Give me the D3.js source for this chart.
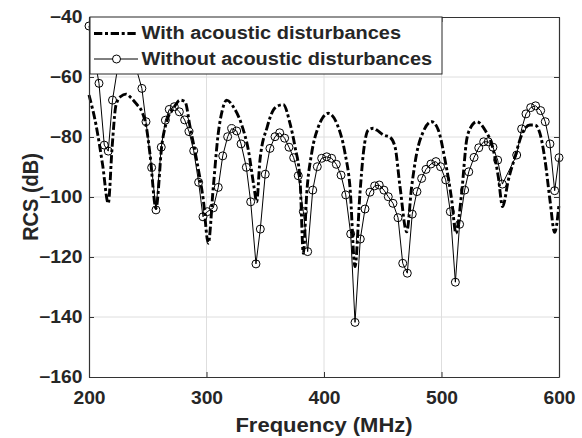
<!DOCTYPE html>
<html>
<head>
<meta charset="utf-8">
<script src="https://cdn.jsdelivr.net/npm/d3@7"></script>
<style>
  body { margin: 0; background: #fff; }
  svg text { font-family: "Liberation Sans", Arial, sans-serif; font-weight: bold; fill: #262626; }
</style>
</head>
<body>
<div id="chart"></div>
<script>
// Series
const seriesNames = ["With acoustic disturbances", "Without acoustic disturbances"];

const freqWith = [200, 206, 211.6, 216.4, 219.6, 223, 227, 231.5, 236, 240, 245.6, 248.5, 252, 257, 262, 267,
  272.6, 277.4, 281.7, 286, 291.6, 297.3, 301.5, 305.8, 310, 313.5, 317.2, 322.8, 330, 335.6, 340.4, 342.7,
  345.5, 351.7, 356.9, 361, 365.4, 371, 375.3, 379.6, 382.4, 385.3, 389.5, 395.2, 399, 403.7, 410.8, 417.9,
  422.1, 426.4, 430.6, 433.5, 437.7, 442, 444.9, 450.5, 456.2, 460.4, 464.7, 470.4, 474.6, 478.9, 484.5,
  491.7, 497.3, 503, 508.7, 512.3, 517.1, 521.4, 524, 530, 537, 544.1, 548.3, 552, 556.9, 562.6, 568.2,
  575.3, 579.6, 583.8, 588.1, 592.3, 596.3, 600];
const rcsWith = [-66, -76, -89.3, -102.1, -83.8, -69.3, -66.5, -65.7, -67, -68.8, -72.1, -76, -86, -103.8, -82.7, -73.8,
  -69.9, -67.7, -68.2, -76.6, -87.7, -101, -115.4, -96.6, -78.8, -71, -67.7, -69.9, -76, -84.3, -96.6, -101.6,
  -87.7, -76.6, -71, -69.6, -69.2, -75.4, -83.2, -94.3, -118.8, -98.8, -85.4, -76.6, -73.5, -72.1, -75.4, -85.4,
  -96.6, -123.2, -98.8, -85.4, -77.7, -77.1, -77.7, -79.3, -80.1, -83.2, -96.6, -111.6, -96.6, -85.4, -78.2,
  -74.9, -77.7, -87.7, -101, -112.1, -98.8, -81, -77.5, -74.9, -77.7, -84.3, -93.2, -103.2, -94.3, -86.6, -79.3,
  -76, -76, -78.8, -87.7, -101, -111.8, -102.5];

const freqWithout = [200, 208.5, 213, 216.4, 220, 230, 245, 248.5, 253.3, 257, 261.5, 265, 268.3, 272.6, 276.9,
  281.4, 285.1, 289.1, 293.3, 297, 300.7, 305.8, 310, 313.8, 318, 321.4, 325.7, 329.4, 333.9, 337.6, 342.1,
  345.8, 350, 354, 358.3, 362.3, 366.5, 370.2, 374.2, 378.1, 382.4, 386.1, 390.4, 394.3, 398, 402.3, 406.5,
  410.5, 414.5, 418.5, 422.7, 426.4, 430.9, 434.9, 439.1, 443.1, 447, 451, 454.7, 458.7, 463, 467, 470.9,
  475.1, 479.1, 483.1, 486.8, 491, 495.3, 499.2, 503.6, 507.5, 511.8, 515.4, 519.7, 523.2, 527.7, 531.7,
  535.9, 539.8, 543.8, 547.8, 551.8, 564, 568.2, 571.9, 575.9, 580.1, 584.4, 588.3, 592.3, 596.3, 600];
const rcsWithout = [-43, -62.1, -82.7, -84.7, -67.7, -43, -63.8, -74.9, -90.2, -104.3, -83.4, -74.4, -70.8, -69.9, -71.6,
  -74.3, -78.2, -84.6, -95.1, -106.6, -104.9, -103.6, -96.8, -86.3, -79.9, -77.2, -78, -82.3, -90.1, -101.6, -122.3,
  -110.7, -92.4, -83.8, -79.9, -78.6, -80.4, -83.4, -86.9, -92.9, -104.9, -118.2, -97.7, -89.9, -87.1, -86.6, -87.1,
  -89.1, -92.7, -99.3, -112.3, -141.8, -114, -104, -98.4, -96.3, -96, -97.7, -99.9, -102.1, -106.9, -122.1, -125.4,
  -105.7, -98.2, -93.8, -90.8, -89, -88.2, -89.9, -94.3, -104.9, -128.4, -109.1, -97.7, -91.6, -86.8, -83.6,
  -81.6, -81.6, -83.4, -87.7, -95.7, -86, -77.3, -72.3, -70.2, -69.6, -71.2, -74.9, -82.3, -97.9, -86.9];

const xTicks = [200, 300, 400, 500, 600];
const yTicks = [-40, -60, -80, -100, -120, -140, -160];

const dashDot = "8.3,2.7,3,2.7";

const config = {
  width: 582, height: 438,
  margin: { top: 17, right: 23, bottom: 61, left: 89 }
};
const w = config.width - config.margin.left - config.margin.right;
const h = config.height - config.margin.top - config.margin.bottom;

const svg = d3.select("#chart").append("svg")
  .attr("width", config.width)
  .attr("height", config.height);

const g = svg.append("g")
  .attr("transform", `translate(${config.margin.left},${config.margin.top})`);

const x = d3.scaleLinear().domain([200, 600]).range([0, w]);
const y = d3.scaleLinear().domain([-160, -40]).range([h, 0]);

// grid
g.append("g").selectAll("line.gx")
  .data(xTicks.slice(1, -1))
  .join("line")
    .attr("x1", d => x(d)).attr("x2", d => x(d))
    .attr("y1", 0).attr("y2", h)
    .attr("stroke", "#dedede").attr("stroke-width", 1);
g.append("g").selectAll("line.gy")
  .data(yTicks.slice(1, -1))
  .join("line")
    .attr("y1", d => y(d)).attr("y2", d => y(d))
    .attr("x1", 0).attr("x2", w)
    .attr("stroke", "#dedede").attr("stroke-width", 1);

// series
const withData = freqWith.map((f, i) => [f, rcsWith[i]]);
const withoutData = freqWithout.map((f, i) => [f, rcsWithout[i]]);

const smooth = d3.line().x(d => x(d[0])).y(d => y(d[1])).curve(d3.curveMonotoneX);
const straight = d3.line().x(d => x(d[0])).y(d => y(d[1]));

g.append("path")
  .datum(withoutData)
  .attr("d", straight)
  .attr("fill", "none").attr("stroke", "#000").attr("stroke-width", 1);

g.append("g").selectAll("circle")
  .data(withoutData)
  .join("circle")
    .attr("cx", d => x(d[0])).attr("cy", d => y(d[1]))
    .attr("r", 4)
    .attr("fill", "none").attr("stroke", "#000").attr("stroke-width", 1);

g.append("path")
  .datum(withData)
  .attr("d", smooth)
  .attr("fill", "none").attr("stroke", "#000").attr("stroke-width", 2.9)
  .attr("stroke-dasharray", dashDot);

// axes (box with inward ticks)
const axisColor = "#333";
const styleAxis = sel => {
  sel.select(".domain").attr("stroke", axisColor).attr("stroke-width", 1.2);
  sel.selectAll(".tick line").attr("stroke", axisColor);
};

const xAxisG = g.append("g").attr("transform", `translate(0,${h})`)
  .call(d3.axisBottom(x).tickValues(xTicks).tickSizeInner(-5).tickSizeOuter(0).tickPadding(15))
  .call(styleAxis);
const yAxisG = g.append("g")
  .call(d3.axisLeft(y).tickValues(yTicks).tickSizeInner(-5).tickSizeOuter(0).tickPadding(6))
  .call(styleAxis);
g.append("g")
  .call(d3.axisTop(x).tickValues(xTicks).tickSizeInner(-5).tickSizeOuter(0).tickFormat(""))
  .call(styleAxis);
g.append("g").attr("transform", `translate(${w},0)`)
  .call(d3.axisRight(y).tickValues(yTicks).tickSizeInner(-5).tickSizeOuter(0).tickFormat(""))
  .call(styleAxis);

[xAxisG, yAxisG].forEach(a => a.selectAll(".tick text")
  .attr("fill", "#262626")
  .style("font-size", "17.5px")
  .style("font-family", '"Liberation Sans", Arial, sans-serif')
  .style("font-weight", "bold")
  .attr("transform", "scale(1.1,1)"));

// axis titles
svg.append("text")
  .attr("transform", `translate(${config.margin.left + w / 2},432) scale(1.1,1)`)
  .attr("text-anchor", "middle")
  .style("font-size", "20px")
  .text("Frequency (MHz)");

svg.append("text")
  .attr("transform", `translate(38,${config.margin.top + h / 2}) rotate(-90) scale(1,1.12)`)
  .attr("text-anchor", "middle")
  .style("font-size", "20px")
  .text("RCS (dB)");

// legend
const legend = svg.append("g");
legend.append("rect")
  .attr("x", 90).attr("y", 17).attr("width", 352).attr("height", 57)
  .attr("fill", "#fff").attr("stroke", "#262626").attr("stroke-width", 1);

const legendRows = [
  { name: seriesNames[0], y: 33.5, dash: true },
  { name: seriesNames[1], y: 59, dash: false }
];
legendRows.forEach(r => {
  legend.append("line")
    .attr("x1", 94).attr("x2", 138).attr("y1", r.y).attr("y2", r.y)
    .attr("stroke", "#000")
    .attr("stroke-width", r.dash ? 2.9 : 1)
    .attr("stroke-dasharray", r.dash ? dashDot : null);
  if (!r.dash) {
    legend.append("circle")
      .attr("cx", 116.5).attr("cy", r.y).attr("r", 4)
      .attr("fill", "#fff").attr("stroke", "#000");
  }
  legend.append("text")
    .attr("transform", `translate(141.5,${r.y + 5.5}) scale(1.08,1)`)
    .style("font-size", "18.5px")
    .text(r.name);
});
</script>
</body>
</html>
